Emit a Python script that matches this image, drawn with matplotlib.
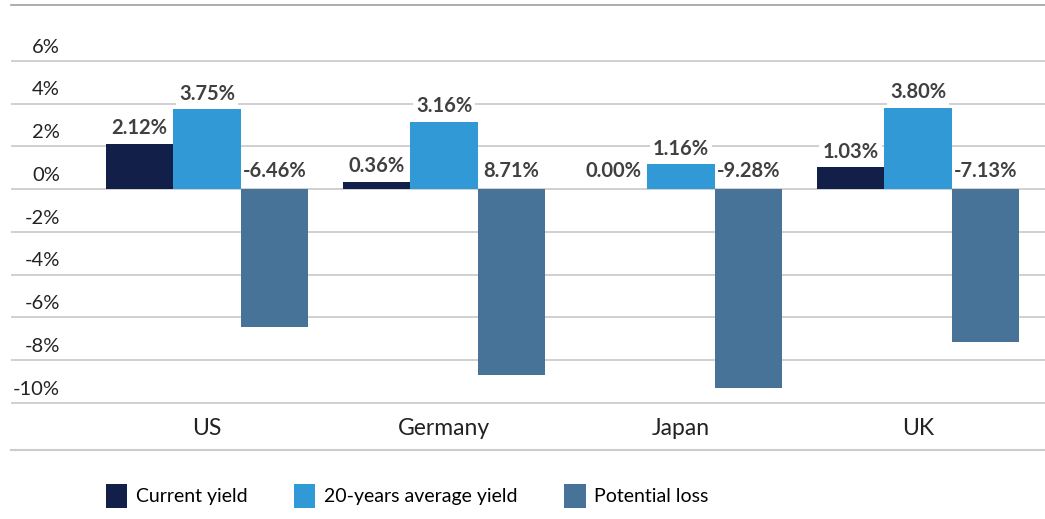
import matplotlib.pyplot as plt
from matplotlib.patches import Patch
import numpy as np

countries = ['US', 'Germany', 'Japan', 'UK']
current_yield = [2.12, 0.36, 0.00, 1.03]
avg_yield = [3.75, 3.16, 1.16, 3.80]
potential_loss = [-6.46, -8.71, -9.28, -7.13]
loss_labels = ['-6.46%', '8.71%', '-9.28%', '-7.13%']  # как на исходной картинке
y_ticks = [6, 4, 2, 0, -2, -4, -6, -8, -10]

series_names = ['Current yield', '20-years average yield', 'Potential loss']
colors = ['#121F48', '#319AD6', '#467397']

plt.rcParams['font.family'] = ['Lato', 'DejaVu Sans']

fig = plt.figure(figsize=(10.45, 5.19), dpi=100)
ax = fig.add_axes([11 / 1045, 69 / 519, 1 - 11 / 1045, 445 / 519])

x = np.arange(len(countries))
w = 0.285

ax.bar(x - w, current_yield, w, color=colors[0], zorder=3)
ax.bar(x, avg_yield, w, color=colors[1], zorder=3)
ax.bar(x + w, potential_loss, w, color=colors[2], zorder=3)

ax.set_xlim(-0.827, 3.536)
ax.set_ylim(-12.2, 8.62)

# сетка
for t in y_ticks:
    ax.axhline(t, color='#c8c8c8', lw=1.2, zorder=1)
    ax.annotate(f'{t}%', (-0.62, t), xytext=(0, 10), textcoords='offset points',
                ha='right', va='center', fontsize=14.5, color='#222222')

ax.set_xticks([])
ax.set_yticks([])
for s in ['left', 'right']:
    ax.spines[s].set_visible(False)
ax.spines['top'].set_color('#a0a0a0')
ax.spines['bottom'].set_color('#cccccc')
ax.spines['top'].set_linewidth(1.2)
ax.spines['bottom'].set_linewidth(1.5)

# подписи значений на белой подложке (поверх сетки, под столбцами)
box = dict(boxstyle='square,pad=0.15', fc='white', ec='none')
lab = dict(textcoords='offset points', ha='center', va='bottom', fontsize=14.5,
           fontweight='bold', color='#404040', bbox=box, zorder=2)

for i in range(len(countries)):
    off = 4 if current_yield[i] > 0 else 6
    ax.annotate(f'{current_yield[i]:.2f}%', (x[i] - w, current_yield[i]), xytext=(0, off), **lab)
    ax.annotate(f'{avg_yield[i]:.2f}%', (x[i], avg_yield[i]), xytext=(0, 4), **lab)
    ax.annotate(loss_labels[i], (x[i] + w, 0), xytext=(0, 6), **lab)
    ax.text(x[i], -11.18, countries[i], ha='center', va='center', fontsize=16.5, color='#222222')

handles = [Patch(facecolor=c, label=n) for c, n in zip(colors, series_names)]
fig.legend(handles=handles, loc='center left', bbox_to_anchor=(88 / 1045, 23 / 519), ncol=3,
           frameon=False, prop={'size': 14},
           handlelength=1.1, handleheight=1.6, handletextpad=0.45, columnspacing=2.4)

plt.savefig('out.png', dpi=100)
